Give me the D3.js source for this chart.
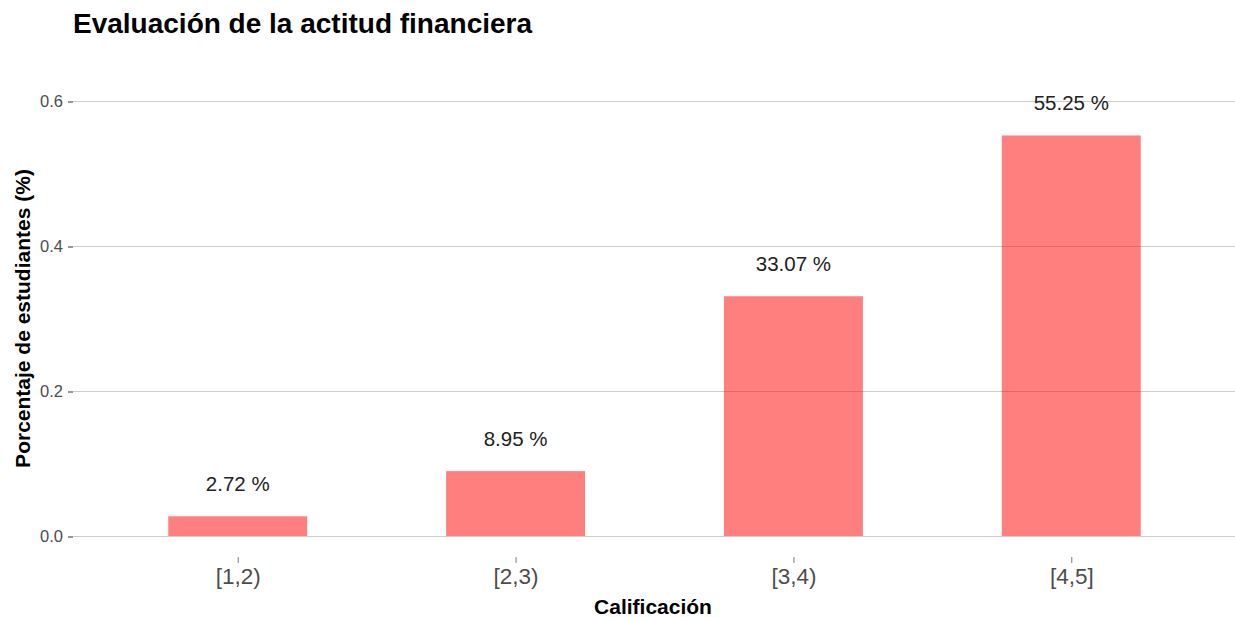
<!doctype html>
<html lang='en'>
<head>
  <meta charset='utf-8'>
  <title>Evaluación de la actitud financiera</title>
  <style>
    html, body { margin: 0; padding: 0; background: #fff; }
    svg text { font-family: 'Liberation Sans', Arial, sans-serif; }
    .grid line { stroke: #cccccc; stroke-width: 1; }
  </style>
</head>
<body>
  <script src='https://d3js.org/d3.v7.min.js'></script>
  <script>
    const categories = ['[1,2)', '[2,3)', '[3,4)', '[4,5]']
    const values = [0.0272, 0.0895, 0.3307, 0.5525]
    const labels = ['2.72 %', '8.95 %', '33.07 %', '55.25 %']
    const yTicks = [0, 0.2, 0.4, 0.6]

    const width = 1235
    const height = 617
    const margin = { top: 101, right: -3, bottom: 81, left: 71 }

    const svg = d3.select('body').append('svg')
      .attr('width', width)
      .attr('height', height)

    // discrete axis with ggplot-like 0.6 expansion, bars at half width
    const x = d3.scalePoint()
      .domain(categories)
      .range([margin.left, width - margin.right])
      .padding(0.6)
    const step = x.step()
    const barW = step * 0.5

    const y = d3.scaleLinear()
      .domain([0, 0.6])
      .range([height - margin.bottom, margin.top])

    // gridlines
    svg.append('g').attr('class', 'grid')
      .selectAll('line')
      .data(yTicks)
      .join('line')
      .attr('x1', margin.left + 2)
      .attr('x2', width)
      .attr('y1', d => y(d) + 0.5)
      .attr('y2', d => y(d) + 0.5)

    // y axis
    const yAxis = svg.append('g')
      .attr('transform', `translate(${margin.left + 2},0)`)
      .call(d3.axisLeft(y).tickValues(yTicks).tickFormat(d3.format('.1f')).tickSize(5).tickPadding(5))
    yAxis.select('.domain').remove()
    yAxis.selectAll('.tick line').attr('stroke', '#333').attr('transform', 'translate(0,0.5)')
    yAxis.selectAll('.tick text')
      .attr('fill', '#4d4d4d')
      .style('font-size', '16.5px')

    // bars
    svg.append('g')
      .selectAll('rect')
      .data(values)
      .join('rect')
      .attr('x', (d, i) => x(categories[i]) - barW / 2)
      .attr('y', d => y(d))
      .attr('width', barW)
      .attr('height', d => y(0) - y(d))
      .attr('fill', '#ff0000')
      .attr('fill-opacity', 0.5)

    // value labels
    svg.append('g')
      .selectAll('text')
      .data(values)
      .join('text')
      .attr('x', (d, i) => x(categories[i]))
      .attr('y', d => y(d) - 25)
      .attr('text-anchor', 'middle')
      .attr('fill', '#222')
      .style('font-size', '20.5px')
      .text((d, i) => labels[i])

    // x axis
    const xAxis = svg.append('g')
      .attr('transform', `translate(0,${y(0) + 21})`)
      .call(d3.axisBottom(x).tickSize(6).tickPadding(5))
    xAxis.select('.domain').remove()
    xAxis.selectAll('.tick line').attr('stroke', '#777')
    xAxis.selectAll('.tick text')
      .attr('fill', '#4d4d4d')
      .style('font-size', '22.5px')

    // titles
    svg.append('text')
      .attr('x', 73)
      .attr('y', 33)
      .style('font-size', '28px')
      .style('font-weight', 'bold')
      .attr('fill', '#000')
      .text('Evaluación de la actitud financiera')

    svg.append('text')
      .attr('x', (margin.left + width) / 2)
      .attr('y', 614)
      .attr('text-anchor', 'middle')
      .style('font-size', '21px')
      .style('font-weight', 'bold')
      .text('Calificación')

    svg.append('text')
      .attr('transform', `translate(30,${(margin.top + height - margin.bottom) / 2}) rotate(-90)`)
      .attr('text-anchor', 'middle')
      .style('font-size', '21px')
      .style('font-weight', 'bold')
      .text('Porcentaje de estudiantes (%)')
  </script>
</body>
</html>
